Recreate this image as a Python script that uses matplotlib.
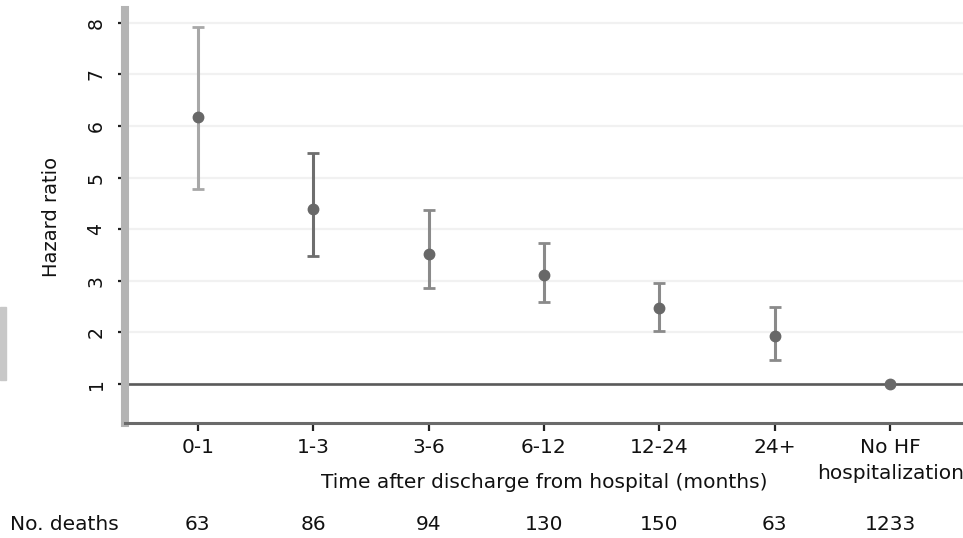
import matplotlib
matplotlib.use("Agg")
import matplotlib.pyplot as plt
import matplotlib.transforms as mtransforms
from matplotlib.patches import Rectangle
import numpy as np

# data
categories = ["0-1", "1-3", "3-6", "6-12", "12-24", "24+", "No HF\nhospitalization"]
hazard = [6.18, 4.40, 3.52, 3.11, 2.47, 1.93, 1.0]
ci_low = [4.79, 3.49, 2.86, 2.59, 2.03, 1.46, 1.0]
ci_high = [7.92, 5.48, 4.38, 3.74, 2.95, 2.50, 1.0]
deaths = [63, 86, 94, 130, 150, 63, 1233]
yticks = [1, 2, 3, 4, 5, 6, 7, 8]

bar_colors = ["#a8a8a8", "#6e6e6e", "#8a8a8a", "#8a8a8a", "#8a8a8a", "#8a8a8a", "#6a6a6a"]
txt = "#111111"
plt.rcParams["font.family"] = ["DejaVu Sans"]

fig = plt.figure(figsize=(9.63, 5.38), dpi=100)
ax = fig.add_axes([125 / 963, 1 - 423 / 538, 1 - 125 / 963, 413 / 538])

x = np.arange(len(categories))

# reference line at HR = 1
ax.axhline(1, color="#5a5a5a", lw=1.9, zorder=2)

for i in range(len(categories)):
    if i == len(categories) - 1:
        ax.plot(x[i], hazard[i], marker="o", ms=7.5, color="#6a6a6a", zorder=4)
        continue
    lo = hazard[i] - ci_low[i]
    hi = ci_high[i] - hazard[i]
    ax.errorbar(x[i], hazard[i], yerr=[[lo], [hi]], fmt="o", ms=7.5,
                color="#686868", ecolor=bar_colors[i], elinewidth=2.2,
                capsize=4.5, capthick=2.0, zorder=3)

ax.set_xlim(-0.63, 6.63)
ax.set_ylim(0.245, 8.25)
ax.set_yticks(yticks)
ax.set_yticklabels([str(v) for v in yticks], rotation=90, va="center",
                   fontsize=13.5, color=txt)
ax.set_xticks(x)
ax.set_xticklabels(categories, fontsize=14.5, color=txt, linespacing=1.45)
ax.grid(axis="y", color="#f1f1f1", lw=1.6, zorder=0)
ax.set_axisbelow(True)

for s in ["top", "right"]:
    ax.spines[s].set_visible(False)
ax.spines["left"].set_color("#b4b4b4")
ax.spines["left"].set_linewidth(5.8)
ax.spines["bottom"].set_color("#6a6a6a")
ax.spines["bottom"].set_linewidth(2.2)
ax.tick_params(axis="y", length=5, width=1.6, color="#222222", pad=9)
ax.tick_params(axis="x", length=6, width=1.6, color="#222222", pad=5)

ax.set_ylabel("Hazard ratio", fontsize=14, color=txt)
ax.yaxis.set_label_coords(-(125 - 61) / 838, 0.5)
ax.set_xlabel("Time after discharge from hospital (months)", fontsize=14.5,
              color=txt, va="center")
ax.xaxis.set_label_coords(0.5, -(482 - 423) / 413)

# number of deaths row under the axis
trans = mtransforms.blended_transform_factory(ax.transData, fig.transFigure)
fig.text(10 / 963, 1 - 524 / 538, "No. deaths", fontsize=14.5, color=txt,
         ha="left", va="center")
for i, d in enumerate(deaths):
    ax.text(x[i], 1 - 524 / 538, str(d), transform=trans, fontsize=14.5,
            color=txt, ha="center", va="center", clip_on=False)

# grey strip at left edge of the reference image
fig.patches.append(Rectangle((0, 1 - 380 / 538), 6 / 963, 73 / 538,
                             transform=fig.transFigure, color="#c8c8c8"))

fig.savefig("out.png", dpi=100)
